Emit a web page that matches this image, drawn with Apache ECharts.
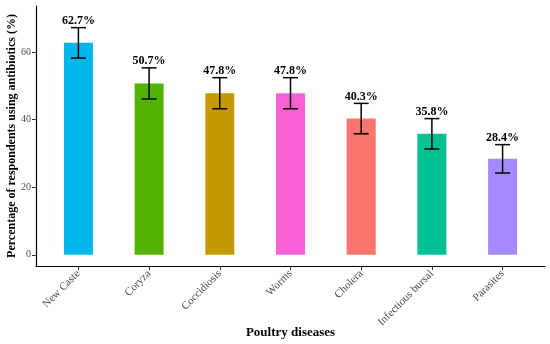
<!DOCTYPE html>
<html><head><meta charset="utf-8">
<script src="https://cdn.jsdelivr.net/npm/echarts@6/dist/echarts.min.js"></script>
<style>html,body{margin:0;padding:0;background:#fff}#c{width:550px;height:344px}</style>
</head><body><div id="c"></div>
<script>
const categories = ['New Caste','Coryza','Coccidiosis','Worms','Cholera','Infectious bursal','Parasites'];
const values = [62.7, 50.7, 47.8, 47.8, 40.3, 35.8, 28.4];
const errors = [4.5, 4.6, 4.6, 4.6, 4.5, 4.5, 4.2];
const colors = ['#00B6EB','#53B400','#C49A00','#FB61D7','#F8766D','#00C094','#A58AFF'];
const yTicks = [0, 20, 40, 60];
const positions = categories.map((c, i) => i + 1);

const serif = 'Liberation Serif';
const chart = echarts.init(document.getElementById('c'));
chart.setOption({
  animation: false,
  grid: {left: 36, right: 5, top: 6, bottom: 78, outerBoundsMode: 'none', containLabel: false},
  xAxis: {
    type: 'value', min: 0.4, max: 7.6,
    name: 'Poultry diseases', nameLocation: 'middle', nameGap: 60, nameMoveOverlap: false,
    nameTextStyle: {fontFamily: serif, fontWeight: 'bold', fontSize: 13, color: '#000'},
    axisLine: {show: true, onZero: false, lineStyle: {color: '#000', width: 1.2}},
    axisTick: {show: true, customValues: positions, length: 4, lineStyle: {color: '#333'}},
    axisLabel: {customValues: positions, rotate: 45, fontFamily: serif, fontSize: 11, color: '#4d4d4d', margin: 6,
      formatter: v => categories[Math.round(v) - 1] || ''},
    splitLine: {show: false}
  },
  yAxis: {
    type: 'value', min: -3.3, max: 73.6,
    name: 'Percentage of respondents using antibiotics (%)', nameLocation: 'middle', nameGap: 18, nameMoveOverlap: false,
    nameTextStyle: {fontFamily: serif, fontWeight: 'bold', fontSize: 12, color: '#000'},
    axisLine: {show: true, onZero: false, lineStyle: {color: '#000', width: 1.2}},
    axisTick: {show: true, customValues: yTicks, length: 4, lineStyle: {color: '#333'}},
    axisLabel: {customValues: yTicks, fontFamily: serif, fontSize: 10, color: '#4d4d4d', margin: 5},
    splitLine: {show: false}
  },
  series: [
    {
      type: 'bar', barWidth: 29,
      data: values.map((v, i) => ({value: [positions[i], v], itemStyle: {color: colors[i]}}))
    },
    {
      type: 'custom', z: 5,
      data: values.map((v, i) => [positions[i], v - errors[i], v + errors[i], v]),
      renderItem: function (params, api) {
        const x = api.value(0);
        const lo = api.coord([x, api.value(1)]);
        const hi = api.coord([x, api.value(2)]);
        const half = 7.5;
        const st = {stroke: '#000', lineWidth: 1.5};
        return {type: 'group', children: [
          {type: 'line', shape: {x1: lo[0], y1: lo[1], x2: hi[0], y2: hi[1]}, style: st},
          {type: 'line', shape: {x1: lo[0]-half, y1: lo[1], x2: lo[0]+half, y2: lo[1]}, style: st},
          {type: 'line', shape: {x1: hi[0]-half, y1: hi[1], x2: hi[0]+half, y2: hi[1]}, style: st},
          {type: 'text', x: hi[0], y: hi[1] - 0.5, style: {text: api.value(3).toFixed(1) + '%', align: 'center', verticalAlign: 'bottom',
            fontFamily: serif, fontWeight: 'bold', fontSize: 12, fill: '#000'}}
        ]};
      }
    }
  ]
});
</script></body></html>
